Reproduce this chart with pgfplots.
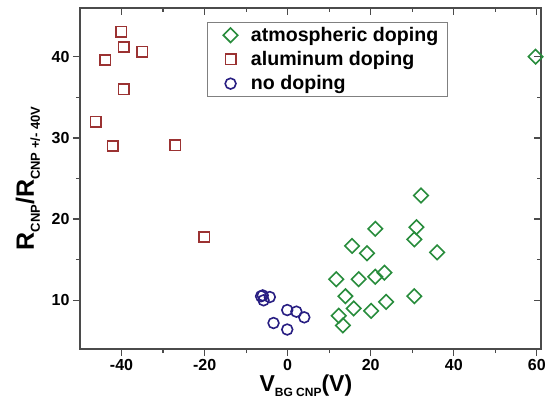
\documentclass[border=0pt]{standalone}
\usepackage{fontspec}
\setmainfont{Liberation Sans}
\usepackage{pgfplots}
\pgfplotsset{compat=1.18}

\definecolor{atmgreen}{RGB}{40,140,60}
\definecolor{alred}{RGB}{155,50,50}
\definecolor{nodblue}{RGB}{40,30,130}
\definecolor{axgray}{RGB}{75,75,75}

\newcommand{\sub}[2]{\raisebox{-0.45ex}{\fontsize{#1}{#1}\selectfont #2}}

\begin{document}
\begin{tikzpicture}
\pgfplotsset{
  common/.style={
    scale only axis, width=461pt, height=341pt,
    xmin=-50, xmax=61, ymin=4, ymax=46,
    xtick={-40,-20,...,60}, ytick={10,20,30,40},
    minor x tick num=1, minor y tick num=1,
    axis line style={axgray, line width=1.2pt},
    tick style={axgray, line width=1.2pt},
    major tick length=7pt, minor tick length=4pt,
    at={(0,0)}, anchor=south west,
  },
}
% ticks on top and right point inwards
\begin{axis}[common, xtick pos=right, ytick pos=right, tick align=inside,
  xticklabels={}, yticklabels={}]
\end{axis}

\begin{axis}[common, xtick pos=left, ytick pos=left, tick align=outside,
  ticklabel style={font=\fontsize{16}{18}\selectfont\bfseries},
  /pgf/number format/assume math mode=true,
  xlabel={\fontsize{23}{26}\selectfont\bfseries V\sub{12}{BG CNP}(V)},
  xlabel style={at={([yshift=-42pt]axis description cs:0.49,0)}, anchor=base},
  ylabel={\fontsize{25}{28}\selectfont\bfseries R\sub{13}{CNP}/R\sub{13}{CNP +/- 40V}},
  ylabel style={at={([xshift=-52pt]axis description cs:0,0.5)}, anchor=center},
  legend style={at={(0.275,0.959)}, anchor=north west, draw=gray,
    line width=0.8pt, font=\fontsize{19.6}{22}\selectfont\bfseries,
    inner xsep=7pt, inner ysep=3pt, row sep=4.5pt},
  legend cell align=left,
  legend image code/.code={
    \path (0pt,0pt) (34pt,0pt);
    \draw[#1] plot coordinates {(16pt,0pt)};
  },
]
% atmospheric doping
\addplot[only marks, mark=square, mark size=5.1pt,
  mark options={rotate=45, draw=atmgreen, line width=1.6pt, fill=none}]
coordinates {
  (32.1,22.9) (21.1,18.8) (31.0,19.0) (30.5,17.5) (36.0,15.9)
  (15.5,16.7) (19.1,15.8) (11.7,12.6) (17.1,12.6) (21.1,12.9)
  (23.3,13.4) (13.9,10.5) (30.5,10.5) (15.9,9.0) (20.1,8.7)
  (23.7,9.8) (12.3,8.1) (13.3,6.9) (59.7,40.0)
};
\addlegendentry{atmospheric doping}
% aluminum doping
\addplot[only marks, mark=square, mark size=5.2pt,
  mark options={draw=alred, line width=1.6pt, fill=none}]
coordinates {
  (-40.1,43.1) (-39.5,41.2) (-43.9,39.6) (-35.0,40.6) (-39.5,36.0)
  (-46.2,32.0) (-42.1,29.0) (-27.1,29.1) (-20.1,17.8)
};
\addlegendentry{aluminum doping}
% no doping
\addplot[only marks, mark=o, mark size=5.4pt,
  mark options={draw=nodblue, line width=1.6pt, fill=none}]
coordinates {
  (-6.4,10.5) (-4.3,10.4) (-5.8,10.0) (-6.0,10.6)
  (-0.1,8.8) (2.1,8.6) (4.0,7.9) (-3.4,7.2) (-0.1,6.4)
};
\addlegendentry{no doping}
\end{axis}
\pgfresetboundingbox
\path[use as bounding box] (-80pt,-53pt) rectangle (466pt,349pt);
\end{tikzpicture}
\end{document}
